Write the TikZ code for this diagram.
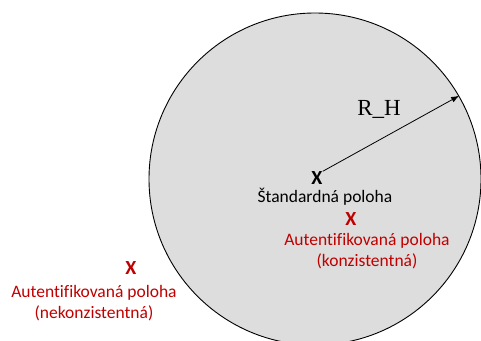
\documentclass[tikz,border=0pt]{standalone}
\usepackage{fontspec}
\setmainfont[Ligatures=NoCommon]{Carlito}
\newfontfamily\rhfont{Liberation Serif}
\usepackage{tikz}
\usetikzlibrary{arrows.meta}
\definecolor{zonegray}{RGB}{221,221,221}
\definecolor{darkred}{RGB}{192,0,0}
\tikzset{
  cross/.style={font=\bfseries\fontsize{20}{20}\selectfont, inner sep=0pt},
  caption/.style={font=\fontsize{17.5}{21.5}\selectfont, align=center, inner sep=0pt},
}

\begin{document}
\begin{tikzpicture}[x=1pt,y=-1pt]
\useasboundingbox (0,0) rectangle (481,340);
% Zone
\node[circle,draw,fill=zonegray,line width=0.9pt,minimum size=332pt,inner sep=0pt] (zone) at (315,179) {};

% Standard position
\node[cross] (std) at (317,178) {X};
\node[caption] (stdlabel) at (325,197) {Štandardná poloha};

% Radius
\draw[-{Latex[length=8pt,width=6pt]},line width=0.8pt] (std.north east) -- (zone.30);
\node[font=\rhfont\fontsize{23}{23}\selectfont, inner sep=0pt] (rh) at (379,109) {R\_H};

% Authenticated positions
\node[cross,text=darkred] (auth) at (351,219) {X};
\node[caption,text=darkred] (authlabel) at (367,251) {Autentifikovaná poloha\\(konzistentná)};
\node[cross,text=darkred] (fake) at (131,268) {X};
\node[caption,text=darkred] (fakelabel) at (94,303) {Autentifikovaná poloha\\(nekonzistentná)};
\end{tikzpicture}
\end{document}
